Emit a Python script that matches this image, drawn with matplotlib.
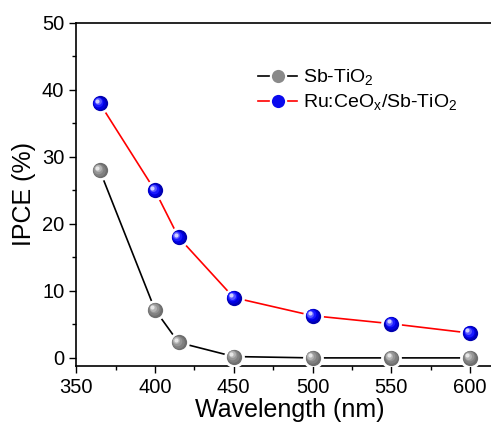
import matplotlib
matplotlib.use("Agg")
import matplotlib.pyplot as plt
import matplotlib.transforms as mtransforms
from matplotlib.lines import Line2D
from matplotlib.ticker import MultipleLocator

plt.rcParams['font.family'] = ['Liberation Sans', 'DejaVu Sans']
plt.rcParams['mathtext.fontset'] = 'custom'
plt.rcParams['mathtext.rm'] = 'Liberation Sans'

wavelength = [365, 400, 415, 450, 500, 550, 600]
sb_tio2 = [28, 7.2, 2.3, 0.2, 0, 0, 0]
ru_ceox = [38, 25, 18, 9, 6.3, 5.1, 3.7]

fig = plt.figure(figsize=(4.91, 4.25), dpi=100)
ax = fig.add_axes([0.155, 0.139, 0.87, 0.807])


def sphere(ax, x, y, line_color, shades, zorder=3):
    # base line plus concentric discs shifted up-left to fake a shaded ball
    ax.plot(x, y, '-', color=line_color, lw=1.2, zorder=zorder)
    ax.plot(x, y, 'o', ms=15, color='white', mec='none', zorder=zorder + 0.5)
    sizes = [11, 9, 7, 5, 3]
    for k, (ms, c) in enumerate(zip(sizes, shades)):
        off = mtransforms.offset_copy(ax.transData, fig=fig,
                                      x=-0.5 * k, y=0.5 * k, units='points')
        ax.plot(x, y, 'o', ms=ms, color=c, mec='none', transform=off,
                zorder=zorder + 1 + k * 0.01)


grey = ['#6e6e6e', '#808080', '#969696', '#b4b4b4', '#e6e6e6']
blue = ['#0000b0', '#0000e0', '#1a1aff', '#5a5aff', '#d0d0ff']

sphere(ax, wavelength, sb_tio2, 'black', grey)
sphere(ax, wavelength, ru_ceox, 'red', blue)

ax.set_xlim(350, 621)
ax.set_ylim(-1.2, 50)
ax.xaxis.set_major_locator(MultipleLocator(50))
ax.xaxis.set_minor_locator(MultipleLocator(25))
ax.yaxis.set_major_locator(MultipleLocator(10))
ax.yaxis.set_minor_locator(MultipleLocator(5))
ax.tick_params(which='major', direction='out', length=5, width=1, labelsize=14.5)
ax.tick_params(which='minor', direction='out', length=3, width=1)
ax.spines['right'].set_visible(False)
for s in ['left', 'bottom', 'top']:
    ax.spines[s].set_linewidth(1.2)

ax.set_xlabel('Wavelength (nm)', fontsize=18, labelpad=1)
ax.set_ylabel('IPCE (%)', fontsize=18, labelpad=4)

handles = [
    Line2D([], [], color='black', lw=1.2, marker='o', ms=11,
           mfc='#8a8a8a', mec='white', mew=1.5),
    Line2D([], [], color='red', lw=1.2, marker='o', ms=11,
           mfc='#0a0aee', mec='white', mew=1.5),
]
labels = [r'Sb-TiO$_\mathrm{2}$', r'Ru:CeO$_\mathrm{x}$/Sb-TiO$_\mathrm{2}$']
ax.legend(handles, labels, loc='upper left', bbox_to_anchor=(0.385, 0.92),
          frameon=False, fontsize=14, handlelength=2.0, handletextpad=0.3,
          labelspacing=0.25)

fig.savefig('out.png', dpi=100)
